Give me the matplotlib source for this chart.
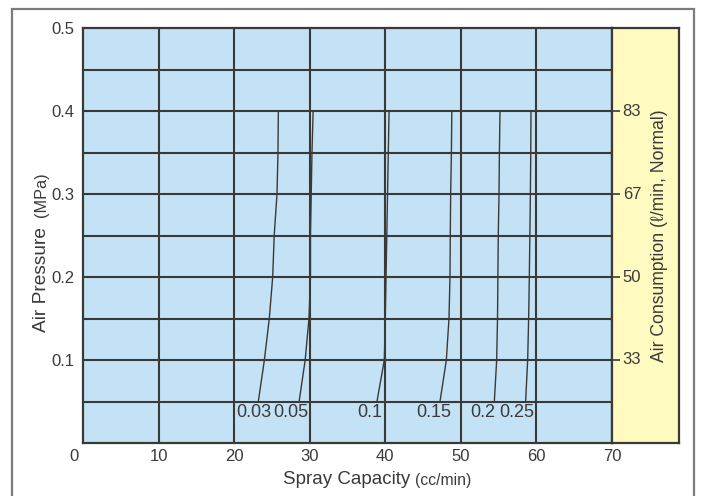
import matplotlib
matplotlib.use("Agg")
import matplotlib.pyplot as plt
import matplotlib.transforms as mtransforms
from matplotlib.patches import Rectangle

plt.rcParams['font.family'] = ['Liberation Sans', 'DejaVu Sans']

# ---- data ----
air_pressure = [0.05, 0.10, 0.15, 0.20, 0.25, 0.30, 0.35, 0.40]
fluid_labels = ["0.03", "0.05", "0.1", "0.15", "0.2", "0.25"]
curve_003 = [23.2, 24.0, 24.65, 25.1, 25.3, 25.67, 25.8, 25.85]
curve_005 = [28.6, 29.4, 29.9, 30.1, 30.1, 30.2, 30.3, 30.45]
curve_010 = [38.9, 39.87, 40.0, 40.1, 40.2, 40.3, 40.4, 40.5]
curve_015 = [47.24, 48.08, 48.43, 48.56, 48.6, 48.65, 48.75, 48.8]
curve_020 = [54.43, 54.74, 54.85, 54.9, 54.95, 55.05, 55.1, 55.18]
curve_025 = [58.57, 58.84, 58.97, 59.06, 59.13, 59.2, 59.25, 59.28]
curves = [curve_003, curve_005, curve_010, curve_015, curve_020, curve_025]
label_x = [22.6, 27.5, 38.0, 46.4, 52.9, 57.4]
label_y = 0.0365

x_ticks = [0, 10, 20, 30, 40, 50, 60, 70]
y_ticks = [0.1, 0.2, 0.3, 0.4, 0.5]
y_ticklabels = ["0.1", "0.2", "0.3", "0.4", "0.5"]
consumption_ticks = [0.1, 0.2, 0.3, 0.4]
consumption_labels = ["33", "50", "67", "83"]
h_grid = [0.05, 0.10, 0.15, 0.20, 0.25, 0.30, 0.35, 0.40, 0.45]
v_grid = [10, 20, 30, 40, 50, 60]

# ---- style ----
dark = "#3b3935"
txt = "#3a3a3a"
blue = "#c3e2f5"
yellow = "#fffabf"
W, H = 701, 496

fig = plt.figure(figsize=(W / 100, H / 100), dpi=100)
fig.patch.set_facecolor("white")

# outer frame
fig.patches.append(Rectangle((12 / W, -0.02), (694 - 12) / W, (496 - 9) / H + 0.02,
                             transform=fig.transFigure, fill=False,
                             edgecolor="#7d7c77", lw=1.6))

L, R, T, B = 83, 612, 28, 443
ax = fig.add_axes([L / W, (H - B) / H, (R - L) / W, (B - T) / H])
ax.set_facecolor(blue)
ax.set_xlim(0, 70)
ax.set_ylim(0, 0.5)

# grid
ax.hlines(h_grid, 0, 70, colors=dark, lw=1.5, zorder=1)
ax.vlines(v_grid, 0, 0.5, colors=dark, lw=1.5, zorder=1)

# curves
for xs in curves:
    ax.plot(xs, air_pressure, color=dark, lw=1.0, zorder=2)
for lab, lx in zip(fluid_labels, label_x):
    ax.text(lx, label_y, lab, ha="center", va="center", fontsize=13,
            color=txt, zorder=3)

for s in ax.spines.values():
    s.set_color(dark)
    s.set_linewidth(1.6)

ax.set_xticks(x_ticks)
ax.set_xticklabels([str(v) for v in x_ticks])
ax.set_yticks(y_ticks)
ax.set_yticklabels(y_ticklabels)
ax.tick_params(axis="both", length=0, labelsize=12, colors=txt, pad=4)
ax.tick_params(axis="y", pad=6)
# shift the "0" x-tick label left
xl = ax.get_xticklabels()
xl[0].set_transform(xl[0].get_transform() +
                    mtransforms.ScaledTranslation(-9 / 100, 0, fig.dpi_scale_trans))

# yellow band (air consumption)
ax2 = fig.add_axes([R / W, (H - B) / H, (679 - R) / W, (B - T) / H])
ax2.set_facecolor(yellow)
ax2.set_xlim(0, 1)
ax2.set_ylim(0, 0.5)
ax2.set_xticks([])
ax2.set_yticks(consumption_ticks)
ax2.set_yticklabels([])
ax2.tick_params(axis="y", direction="in", length=5.5, width=1.2, color=dark)
for s in ax2.spines.values():
    s.set_color(dark)
    s.set_linewidth(1.6)
tr = mtransforms.blended_transform_factory(ax2.transAxes, ax2.transData)
for yv, lab in zip(consumption_ticks, consumption_labels):
    ax2.text(0.16, yv, lab, transform=tr, ha="left", va="center",
             fontsize=12, color=txt)

# axis labels
fig.text(410 / W, (H - 480) / H, "Spray Capacity", ha="right", va="center",
         fontsize=13.5, color=txt)
fig.text(415 / W, (H - 480) / H, "(cc/min)", ha="left", va="center",
         fontsize=11.3, color=txt)
fig.text(41 / W, (H - 332) / H, "Air Pressure", rotation=90, ha="center",
         va="bottom", fontsize=13.8, color=txt)
fig.text(41 / W, (H - 217) / H, "(MPa)", rotation=90, ha="center",
         va="bottom", fontsize=11.7, color=txt)
fig.text(660 / W, (H - 362) / H, "Air Consumption (\u2113/min, Normal)", rotation=90,
         ha="center", va="bottom", fontsize=12.7, color=txt)

fig.savefig("out.png", dpi=100)
